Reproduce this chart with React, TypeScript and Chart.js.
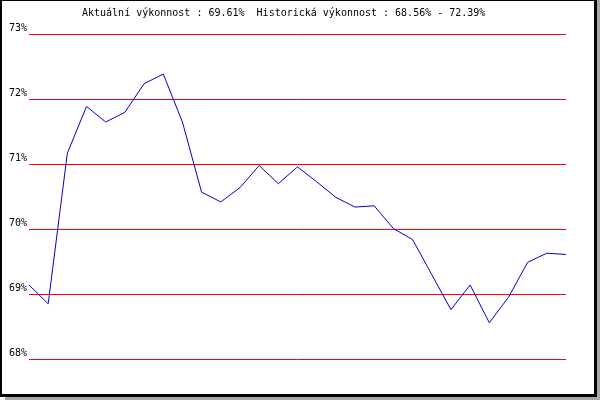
import React, { useEffect, useRef } from "react";
import { Chart, registerables } from "chart.js";

Chart.register(...registerables);

const titleText = "Aktuální výkonnost : 69.61%  Historická výkonnost : 68.56% - 72.39%";
const categories = Array.from({ length: 29 }, (_, i) => String(i + 1));
const performance = [
  69.14, 68.85, 71.17, 71.89, 71.65, 71.8, 72.24, 72.39, 71.65, 70.57,
  70.42, 70.64, 70.98, 70.7, 70.96, 70.73, 70.49, 70.34, 70.36, 70.01,
  69.84, 69.3, 68.76, 69.14, 68.56, 68.95, 69.49, 69.63, 69.61,
];
const yMin = 68;
const yMax = 73;

export default function App() {
  const ref = useRef<HTMLCanvasElement | null>(null);

  useEffect(() => {
    if (!ref.current) return;
    const font = { family: "'DejaVu Sans Mono', monospace", size: 10 };
    const chart = new Chart(ref.current, {
      type: "line",
      data: {
        labels: categories,
        datasets: [
          {
            data: performance,
            borderColor: "#0000cc",
            borderWidth: 1,
            pointRadius: 0,
            tension: 0,
            fill: false,
          },
        ],
      },
      options: {
        responsive: false,
        animation: false,
        layout: { padding: { left: 0, right: 34, top: 34.4, bottom: 41 } },
        plugins: { legend: { display: false }, tooltip: { enabled: false }, title: { display: false } },
        scales: {
          x: { display: false },
          y: {
            min: yMin,
            max: yMax,
            afterFit: (scale: any) => {
              scale.width = 29;
            },
            border: { display: false },
            grid: {
              drawTicks: false,
              lineWidth: 1,
              color: "#ff0000",
            },
            ticks: {
              stepSize: 1,
              padding: 2,
              labelOffset: -6,
              color: "#000",
              font,
              callback: (v: any) => Math.round(v) + "%",
            },
          },
        },
      },
    });
    return () => chart.destroy();
  }, []);

  return (
    <div style={{ position: "absolute", left: 0, top: 0, width: 600, height: 400, background: "#fff" }}>
      <div style={{ position: "absolute", left: 597, top: 0, width: 3, height: 400, background: "#a8a8a8" }} />
      <div style={{ position: "absolute", left: 5, top: 397, width: 595, height: 3, background: "#a8a8a8" }} />
      <div
        style={{
          position: "absolute",
          left: 0,
          top: 0,
          width: 597,
          height: 397,
          boxSizing: "border-box",
          borderStyle: "solid",
          borderColor: "#000",
          borderWidth: "1px 3px 3px 2px",
        }}
      />
      <canvas ref={ref} width={600} height={400} style={{ position: "absolute", left: 0, top: 0 }} />
      <div
        style={{
          position: "absolute",
          left: 82,
          top: 8,
          fontFamily: "'DejaVu Sans Mono', monospace",
          fontSize: 10,
          lineHeight: "10px",
          whiteSpace: "pre",
          color: "#000",
        }}
      >
        {titleText}
      </div>
    </div>
  );
}
